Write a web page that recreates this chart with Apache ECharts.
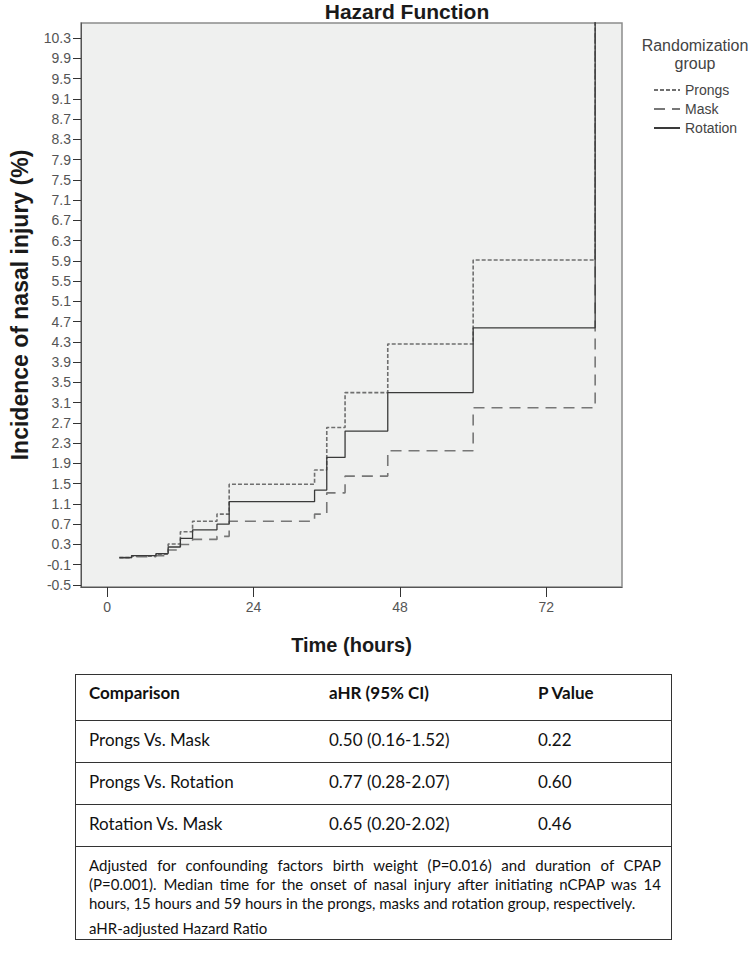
<!DOCTYPE html>
<html>
<head>
<meta charset="utf-8">
<script src="https://cdn.jsdelivr.net/npm/echarts/dist/echarts.min.js"></script>
<style>
  html, body { margin: 0; padding: 0; background: #ffffff; }
  #wrap { position: relative; width: 750px; height: 953px; overflow: hidden; }
  #chart { position: absolute; left: 0; top: 0; width: 750px; height: 670px; }
  #tbl {
    position: absolute; left: 75px; top: 674px; width: 597px; height: 266px;
    box-sizing: border-box; border: 1px solid #333;
    font-family: Lato, "Open Sans", "Liberation Sans", sans-serif; color: #111;
  }
  #tbl table { border-collapse: collapse; width: 100%; table-layout: fixed; }
  #tbl td { padding: 0 0 0 13px; font-size: 17px; vertical-align: top; border-bottom: 1px solid #333;
            white-space: nowrap; box-sizing: border-box; }
  #tbl tr.h td { font-weight: bold; height: 45px; padding-top: 7px; }
  #tbl tr.r td { height: 42px; padding-top: 8px; }
  #note { padding: 9px 10px 0 13px; font-size: 15px; line-height: 19px; text-align: justify; }
  #note p { margin: 0; }
  #note p.last { margin-top: 6px; }
</style>
</head>
<body>
<div id="wrap">
  <div id="chart"></div>
  <div id="tbl">
    <table>
      <colgroup><col style="width:240px"><col style="width:209px"><col></colgroup>
      <tr class="h"><td>Comparison</td><td>aHR (95% CI)</td><td>P Value</td></tr>
      <tr class="r"><td>Prongs Vs. Mask</td><td>0.50 (0.16-1.52)</td><td>0.22</td></tr>
      <tr class="r"><td>Prongs Vs. Rotation</td><td>0.77 (0.28-2.07)</td><td>0.60</td></tr>
      <tr class="r"><td>Rotation Vs. Mask</td><td>0.65 (0.20-2.02)</td><td>0.46</td></tr>
    </table>
    <div id="note">
      <p>Adjusted for confounding factors birth weight (P=0.016) and duration of CPAP (P=0.001). Median time for the onset of nasal injury after initiating nCPAP was 14 hours, 15 hours and 59 hours in the prongs, masks and rotation group, respectively.</p>
      <p class="last">aHR-adjusted Hazard Ratio</p>
    </div>
  </div>
</div>
<script>
// ---- data (time in hours, hazard in %) ----
const times    = [2, 4, 8, 10, 12, 14, 18, 20, 34, 36, 39, 46, 60, 80];
const prongs   = [0.04, 0.07, 0.11, 0.31, 0.55, 0.76, 0.90, 1.49, 1.77, 2.61, 3.30, 4.26, 5.92, 14];
const mask     = [0.04, 0.06, 0.08, 0.19, 0.30, 0.40, 0.46, 0.76, 0.90, 1.32, 1.65, 2.15, 3.00, 14];
const rotation = [0.04, 0.08, 0.12, 0.25, 0.42, 0.59, 0.70, 1.145, 1.375, 2.02, 2.54, 3.30, 4.58, 14];
const seriesNames = ['Prongs', 'Mask', 'Rotation'];
const xTicks = [0, 24, 48, 72];
const yTicks = [-0.5, -0.1, 0.3, 0.7, 1.1, 1.5, 1.9, 2.3, 2.7, 3.1, 3.5, 3.9, 4.3, 4.7, 5.1,
                5.5, 5.9, 6.3, 6.7, 7.1, 7.5, 7.9, 8.3, 8.7, 9.1, 9.5, 9.9, 10.3];

const pair = (vals) => times.map((t, i) => [t, vals[i]]);
const font = '"Liberation Sans", Arial, sans-serif';

const chart = echarts.init(document.getElementById('chart'), null, { renderer: 'svg' });
chart.setOption({
  animation: false,
  textStyle: { fontFamily: font },
  title: [
    { text: 'Hazard Function', left: 407, top: 1, padding: 0, textAlign: 'center',
      textStyle: { fontFamily: font, fontSize: 21, fontWeight: 'bold', color: '#1a1a1a' } },
    { text: 'Randomization\ngroup', left: 690, top: 31, textAlign: 'center',
      textStyle: { fontFamily: font, fontSize: 16, fontWeight: 'normal', color: '#444', lineHeight: 18 } }
  ],
  legend: {
    orient: 'vertical', left: 648, top: 78, itemWidth: 26, itemHeight: 12, itemGap: 5,
    data: seriesNames,
    itemStyle: { opacity: 0 },
    textStyle: { fontFamily: font, fontSize: 14, color: '#444' }
  },
  grid: {
    left: 72, top: 23, width: 550, height: 564, show: true,
    backgroundColor: '#eff0ef', borderColor: '#8c8c8c', borderWidth: 1.5
  },
  xAxis: {
    type: 'value', min: -4.29, max: 84.4,
    name: 'Time (hours)', nameLocation: 'middle', nameGap: 48,
    nameTextStyle: { fontFamily: font, fontSize: 20, fontWeight: 'bold', color: '#1a1a1a' },
    axisLine: { show: true, onZero: false, lineStyle: { color: '#555', width: 1 } },
    axisTick: { show: true, length: 10, customValues: xTicks, lineStyle: { color: '#333' } },
    axisLabel: { customValues: xTicks, fontSize: 14, color: '#555', margin: 13 },
    splitLine: { show: false }
  },
  yAxis: {
    type: 'value', min: -0.54, max: 10.6,
    name: 'Incidence of nasal injury (%)', nameLocation: 'middle', nameGap: 50, nameRotate: 90,
    nameTextStyle: { fontFamily: font, fontSize: 23, fontWeight: 'bold', color: '#1a1a1a' },
    axisLine: { show: true, onZero: false, lineStyle: { color: '#555', width: 1 } },
    axisTick: { show: true, length: 8, customValues: yTicks, lineStyle: { color: '#333' } },
    axisLabel: { customValues: yTicks, fontSize: 14, color: '#555', margin: 10,
                 formatter: (v) => Number(v).toFixed(1) },
    splitLine: { show: false }
  },
  series: [
    { name: 'Prongs', type: 'line', step: 'end', symbol: 'none', clip: true,
      data: pair(prongs), color: '#6f6f6f',
      lineStyle: { color: '#6f6f6f', width: 1.6, type: [4, 2] } },
    { name: 'Mask', type: 'line', step: 'end', symbol: 'none', clip: true,
      data: pair(mask), color: '#777777',
      lineStyle: { color: '#777777', width: 1.6, type: [11, 7] } },
    { name: 'Rotation', type: 'line', step: 'end', symbol: 'none', clip: true,
      data: pair(rotation), color: '#3a3a3a',
      lineStyle: { color: '#3a3a3a', width: 1.3, type: 'solid' } }
  ]
});
</script>
</body>
</html>
